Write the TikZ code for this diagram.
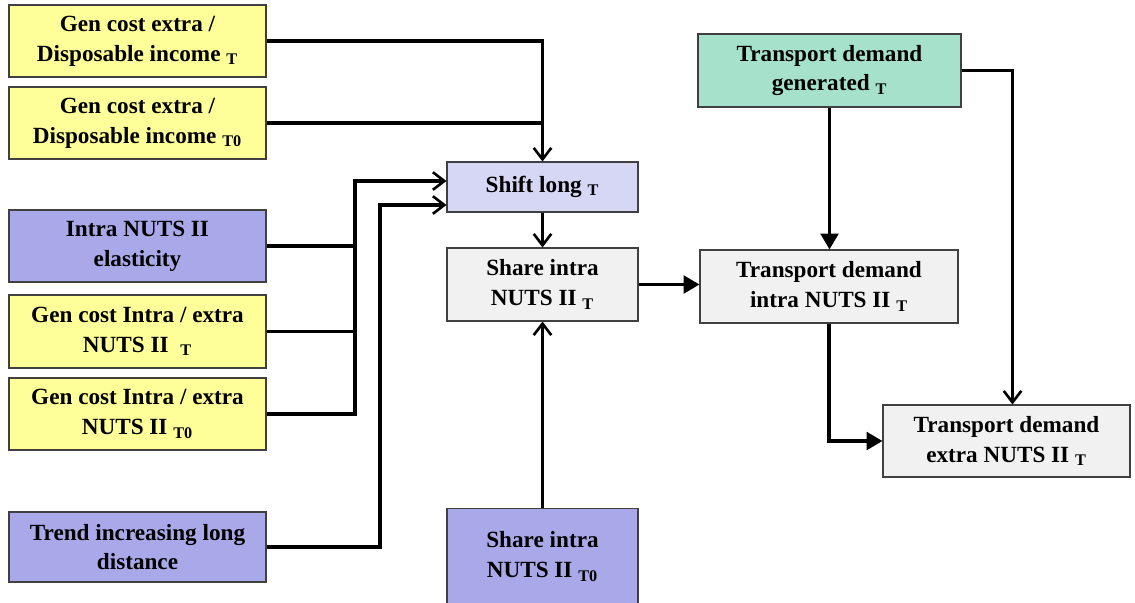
\documentclass[tikz,border=0pt]{standalone}
\usepackage{fontspec}
\setmainfont{Liberation Serif}
\usepackage{tikz}
\usetikzlibrary{arrows.meta}
\usetikzlibrary{calc}
\definecolor{cyellow}{RGB}{255,255,153}
\definecolor{cpurple}{RGB}{169,169,233}
\definecolor{clavender}{RGB}{214,214,245}
\definecolor{cmint}{RGB}{166,225,203}
\definecolor{cgrey}{RGB}{241,241,241}
\definecolor{cborder}{RGB}{64,64,64}
\newcommand{\lowidx}[1]{\textsubscript{#1}}
\tikzset{blk/.style={draw=cborder, line width=0.6pt, align=center, inner sep=0pt, font=\fontsize{13.2}{17}\selectfont\bfseries},
  wd/.style={minimum width=#1*0.02cm}, ht/.style={minimum height=#1*0.02cm}}
\tikzset{wire/.style={line width=1.9pt}, link/.style={wire, -{Straight Barb[length=6.5pt,width=10pt,line width=1.5pt]}}, flow/.style={wire, -{Triangle[length=9pt,width=10pt]}}}

\begin{document}
\begin{tikzpicture}[x=0.02cm, y=-0.02cm]
\useasboundingbox (0,0) rectangle (1135,602);
% left column
\node[blk, fill=cyellow, wd=257, ht=72] (gcextT) at (137.5,41) {Gen cost extra /\\Disposable income \lowidx{T}};
\node[blk, fill=cyellow, wd=257, ht=72] (gcextT0) at (137.5,123) {Gen cost extra /\\Disposable income \lowidx{T0}};
\node[blk, fill=cpurple, wd=257, ht=72] (elast) at (137.5,246) {Intra NUTS II\\elasticity};
\node[blk, fill=cyellow, wd=257, ht=73] (gcintraT) at (137.5,331.5) {Gen cost Intra / extra\\NUTS II~ \lowidx{T}};
\node[blk, fill=cyellow, wd=257, ht=72] (gcintraT0) at (137.5,414) {Gen cost Intra / extra\\NUTS II \lowidx{T0}};
\node[blk, fill=cpurple, wd=257, ht=70] (trend) at (137.5,547) {Trend increasing long\\distance};
% middle column
\node[blk, fill=clavender, wd=191, ht=50] (shift) at (542.5,187) {Shift long \lowidx{T}};
\node[blk, fill=cgrey, wd=191, ht=73] (shareT) at (542.5,284.5) {Share intra\\NUTS II \lowidx{T}};
\node[blk, fill=cpurple, wd=191, ht=96, anchor=north] (share0) at (542.5,508) {Share intra\\NUTS II \lowidx{T0}};
% right column
\node[blk, fill=cmint, wd=263, ht=73] (tdgen) at (829.5,70.5) {Transport demand\\generated \lowidx{T}};
\node[blk, fill=cgrey, wd=258, ht=73] (tdintra) at (829,286.5) {Transport demand\\intra NUTS II \lowidx{T}};
\node[blk, fill=cgrey, wd=247, ht=72] (tdextra) at (1006.5,441) {Transport demand\\extra NUTS II \lowidx{T}};

\coordinate (busA) at (355,0);
\coordinate (busB) at (380,0);
\coordinate (inA) at ($(shift.west)+(0,-6)$);
\coordinate (inB) at ($(shift.west)+(0,18)$);
\coordinate (dropC) at ($(tdextra.north)+(6,0)$);

\draw[link] (gcextT.east) -| (shift.north);
\draw[wire] (gcextT0.east) -- (gcextT0.east -| shift.north);
\draw[wire] (elast.east) -- (elast.east -| busA);
\draw[wire] (gcintraT.east) -- (gcintraT.east -| busA);
\draw[link] (gcintraT0.east) -| (busA |- inA) -- (inA);
\draw[link] (trend.east) -| (busB |- inB) -- (inB);
\draw[link] (shift.south) -- (shareT.north);
\draw[link] (share0.north) -- (shareT.south);
\draw[flow] (shareT.east) -- (shareT.east -| tdintra.west);
\draw[flow] (tdgen.south) -- (tdgen.south |- tdintra.north);
\draw[link] (tdgen.east) -| (dropC);
\draw[flow] (tdintra.south) |- (tdextra.west);
\end{tikzpicture}
\end{document}
